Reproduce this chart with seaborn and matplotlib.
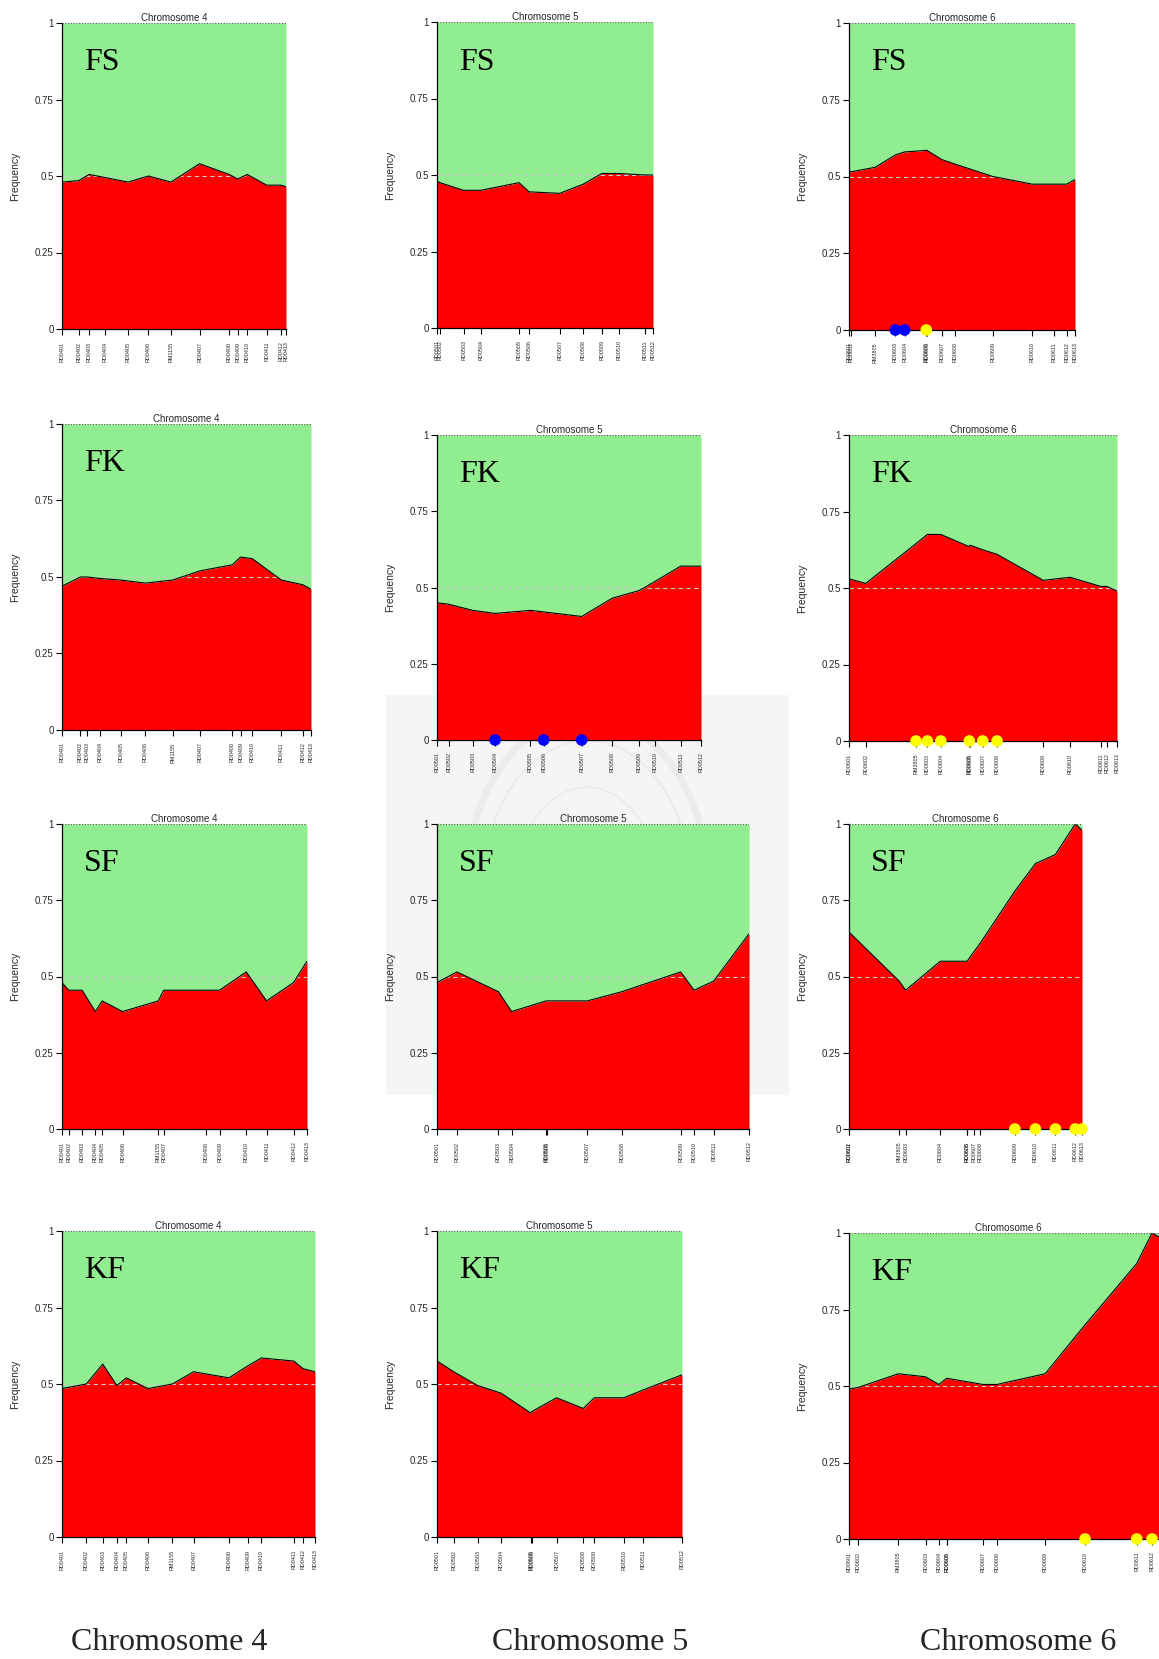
import numpy as np
import matplotlib
matplotlib.use("Agg")
import matplotlib.pyplot as plt
import seaborn as sns
from matplotlib.patches import Rectangle, Circle

sns.set_theme(style="white")
plt.rcParams["font.family"] = ["Liberation Sans", "DejaVu Sans"]

# ---- marker names per chromosome ----
chr4_markers = ["RD0401", "RD0402", "RD0403", "RD0404", "RD0405", "RD0406", "RM1155",
                "RD0407", "RD0408", "RD0409", "RD0410", "RD0411", "RD0412", "RD0413"]
chr5_markers = ["RD0501", "RD0502", "RD0503", "RD0504", "RD0505", "RD0506",
                "RD0507", "RD0508", "RD0509", "RD0510", "RD0511", "RD0512"]
chr6_markers = ["RD0601", "RD0602", "RM3805", "RD0603", "RD0604", "RD0605", "RD0606",
                "RD0607", "RD0608", "RD0609", "RD0610", "RD0611", "RD0612", "RD0613"]

# ---- map positions (relative, % of linkage group) and allele frequencies ----
fs4_pos = [0, 7.5, 12.1, 19.2, 29.5, 38.6, 48.6, 61.4, 74.7, 78.4, 82.7, 91.4, 97.6, 100]
fs4_freq = [0.48, 0.485, 0.505, 0.495, 0.48, 0.50, 0.48, 0.54, 0.505, 0.49, 0.505, 0.47, 0.47, 0.465]
fs5_pos = [0, 1.3, 12.3, 20.3, 38.0, 42.6, 56.8, 67.7, 76.3, 84.3, 96.2, 100]
fs5_freq = [0.48, 0.475, 0.45, 0.45, 0.475, 0.445, 0.44, 0.47, 0.505, 0.505, 0.50, 0.50]
fs6_pos = [0, 0.7, 11.6, 20.5, 24.6, 34.2, 34.5, 41.1, 47.1, 63.6, 81.1, 90.7, 96.3, 100]
fs6_freq = [0.52, 0.515, 0.53, 0.57, 0.58, 0.585, 0.585, 0.555, 0.54, 0.50, 0.475, 0.475, 0.475, 0.49]

fk4_pos = [0, 7.4, 10.1, 15.4, 23.5, 33.5, 44.4, 55.4, 68.4, 71.7, 76.4, 88.1, 96.6, 100]
fk4_freq = [0.47, 0.50, 0.50, 0.495, 0.49, 0.48, 0.49, 0.52, 0.54, 0.565, 0.56, 0.49, 0.475, 0.46]
fk5_pos = [0, 4.5, 13.5, 22.0, 35.4, 40.4, 54.8, 66.4, 76.6, 82.6, 92.3, 100]
fk5_freq = [0.45, 0.445, 0.425, 0.415, 0.425, 0.42, 0.405, 0.465, 0.49, 0.52, 0.57, 0.57]
fk6_pos = [0, 6.25, 25, 29.25, 34.25, 44.9, 45.1, 49.9, 55.25, 72.5, 82.5, 94, 96.25, 100]
fk6_freq = [0.53, 0.515, 0.645, 0.675, 0.675, 0.635, 0.64, 0.625, 0.61, 0.525, 0.535, 0.505, 0.505, 0.49]

sf4_pos = [0, 2.7, 8.2, 13.6, 16.4, 24.7, 39.3, 41.5, 58.8, 64.3, 75.2, 83.5, 94.5, 100]
sf4_freq = [0.48, 0.455, 0.455, 0.385, 0.42, 0.385, 0.42, 0.455, 0.455, 0.455, 0.515, 0.42, 0.48, 0.55]
sf5_pos = [0, 6.4, 19.7, 23.9, 35.0, 35.1, 48.2, 59.2, 78.1, 82.4, 88.7, 100]
sf5_freq = [0.48, 0.515, 0.45, 0.385, 0.42, 0.42, 0.42, 0.45, 0.515, 0.455, 0.485, 0.64]
sf6_pos = [0, 0.1, 21.5, 24.3, 39.2, 50.6, 50.7, 53.5, 56.4, 71.2, 80.0, 88.6, 97.1, 100]
sf6_freq = [0.645, 0.645, 0.485, 0.455, 0.55, 0.55, 0.55, 0.58, 0.61, 0.78, 0.87, 0.90, 1.0, 0.98]

kf4_pos = [0, 9.6, 16.1, 21.7, 25.4, 34.0, 43.6, 52.0, 66.0, 73.6, 78.8, 91.6, 95.3, 100]
kf4_freq = [0.485, 0.50, 0.565, 0.495, 0.52, 0.485, 0.50, 0.54, 0.52, 0.56, 0.585, 0.575, 0.55, 0.54]
kf5_pos = [0, 6.8, 16.6, 26.2, 38.3, 38.7, 48.8, 59.7, 64.2, 76.3, 84.0, 100]
kf5_freq = [0.575, 0.54, 0.495, 0.47, 0.405, 0.41, 0.455, 0.42, 0.455, 0.455, 0.48, 0.53]
kf6_pos = [0, 2.8, 15.5, 24.0, 28.2, 30.6, 30.8, 42.0, 46.4, 61.5, 74.0, 90.2, 95.0, 100]
kf6_freq = [0.49, 0.495, 0.54, 0.53, 0.505, 0.525, 0.525, 0.505, 0.505, 0.54, 0.70, 0.90, 1.0, 0.97]

# markers flagged for distortion (index into marker list, dot colour)
fs6_flags = ([3, 4], "blue"), ([5], "yellow")
fk5_flags = ([3, 5, 6], "blue"),
fk6_flags = ([2, 3, 4, 5, 7, 8], "yellow"),
sf6_flags = ([9, 10, 11, 12, 13], "yellow"),
kf6_flags = ([10, 11, 12], "yellow"),

W, H = 1159, 1659
fig = plt.figure(figsize=(W / 100, H / 100), dpi=100)
fig.patch.set_facecolor("white")

# faint seal in the background
fig.patches.append(Rectangle((386 / W, 1 - 1095 / H), 403 / W, 400 / H,
                             transform=fig.transFigure, facecolor="#f5f5f5",
                             edgecolor="none", zorder=-5))
for r, lw in [(0.105, 5), (0.09, 1.5), (0.062, 1.2)]:
    fig.patches.append(Circle((587 / W, 1 - 890 / H), r, transform=fig.transFigure,
                              facecolor="none", edgecolor="#ebebeb", lw=lw, zorder=-4))


def rect(l, r, t, b):
    return [l / W, 1 - b / H, (r - l) / W, (b - t) / H]


panels = [
    # (label, chromosome, markers, pos, freq, flags, (left, right, top, bottom))
    ("FS", 4, chr4_markers, fs4_pos, fs4_freq, (), (62, 286, 23, 329)),
    ("FS", 5, chr5_markers, fs5_pos, fs5_freq, (), (437, 653, 22, 328)),
    ("FS", 6, chr6_markers, fs6_pos, fs6_freq, fs6_flags, (849, 1075, 23, 330)),
    ("FK", 4, chr4_markers, fk4_pos, fk4_freq, (), (62, 311, 424, 730)),
    ("FK", 5, chr5_markers, fk5_pos, fk5_freq, fk5_flags, (437, 701, 435, 740)),
    ("FK", 6, chr6_markers, fk6_pos, fk6_freq, fk6_flags, (849, 1117, 435, 741)),
    ("SF", 4, chr4_markers, sf4_pos, sf4_freq, (), (62, 307, 824, 1129)),
    ("SF", 5, chr5_markers, sf5_pos, sf5_freq, (), (437, 749, 824, 1129)),
    ("SF", 6, chr6_markers, sf6_pos, sf6_freq, sf6_flags, (849, 1082, 824, 1129)),
    ("KF", 4, chr4_markers, kf4_pos, kf4_freq, (), (62, 315, 1231, 1537)),
    ("KF", 5, chr5_markers, kf5_pos, kf5_freq, (), (437, 682, 1231, 1537)),
    ("KF", 6, chr6_markers, kf6_pos, kf6_freq, kf6_flags, (849, 1168, 1233, 1539)),
]

for label, chrom, markers, pos, freq, flags, box in panels:
    ax = fig.add_axes(rect(*box))
    ax.set_facecolor("white")
    pos = np.asarray(pos, float)
    freq = np.asarray(freq, float)
    ax.fill_between(pos, 0, freq, color="#ff0000", lw=0, zorder=1)
    ax.fill_between(pos, freq, 1, color="#90ee90", lw=0, zorder=1)
    sns.lineplot(x=pos, y=freq, color="black", lw=0.8, ax=ax, zorder=3,
                 estimator=None, sort=False)
    ax.axhline(0.5, color="#c8c8c8", lw=0.8, ls=(0, (4, 3)), zorder=2)
    ax.axhline(1.0, color="#555555", lw=0.8, ls=(0, (1, 1.5)), zorder=3)
    ax.plot([pos[-1], pos[-1]], [0, freq[-1]], color="black", lw=0.8, zorder=3)
    for idx, col in flags:
        sns.scatterplot(x=pos[idx], y=np.zeros(len(idx)), color=col, s=70,
                        edgecolor="none", ax=ax, zorder=5, clip_on=False)
    ax.set_xlim(pos[0], pos[-1])
    ax.set_ylim(0, 1)
    ax.margins(0)
    ax.set_xticks(pos)
    ax.set_xticklabels(markers, rotation=90, fontsize=3.9)
    ax.set_yticks([0, 0.25, 0.5, 0.75, 1])
    ax.set_yticklabels(["0", "0.25", "0.5", "0.75", "1"], fontsize=7)
    ax.tick_params(axis="both", direction="out", length=4, width=0.8,
                   color="black", pad=2, bottom=True, left=True)
    ax.tick_params(axis="x", pad=5)
    for side in ["top", "right"]:
        ax.spines[side].set_visible(False)
    for side in ["left", "bottom"]:
        ax.spines[side].set_color("black")
        ax.spines[side].set_linewidth(0.9)
    ax.set_xlabel("")
    ax.set_ylabel("Frequency", fontsize=7.5, labelpad=11)
    ax.set_title(f"Chromosome {chrom}", fontsize=7, pad=1.5)
    ax.annotate(label, xy=(0, 1), xycoords="axes fraction", xytext=(22, -40),
                textcoords="offset pixels", fontsize=23, family="Liberation Serif",
                va="center", ha="left", color="black")
    # tick labels that fall past the page edge are not drawn
    right_edge = box[0] + (box[1] - box[0]) * (pos - pos[0]) / (pos[-1] - pos[0])
    for tl, xr in zip(ax.get_xticklabels(), right_edge):
        if xr > W - 3:
            tl.set_visible(False)

for x, chrom in [(169, 4), (590, 5), (1018, 6)]:
    fig.text(x / W, 1 - 1643 / H, f"Chromosome {chrom}", fontsize=23,
             family="Liberation Serif", ha="center", va="center")

fig.savefig("out.png", dpi=100)
